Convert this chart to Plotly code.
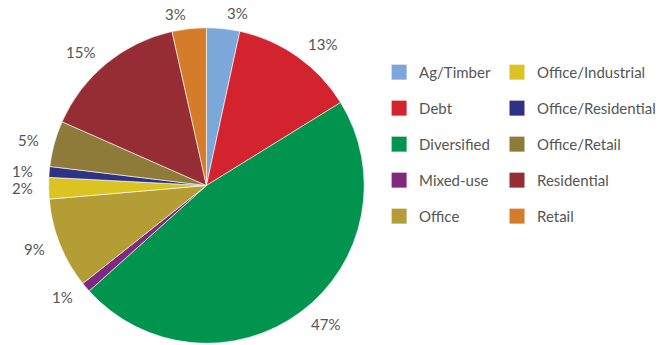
import math
import plotly.graph_objects as go

categories = ["Ag/Timber", "Debt", "Diversified", "Mixed-use", "Office",
              "Office/Industrial", "Office/Residential", "Office/Retail",
              "Residential", "Retail"]
shares = [3.4, 12.8, 47.2, 1.0, 9.3, 2.2, 1.1, 4.7, 14.9, 3.5]
pct_labels = ["3%", "13%", "47%", "1%", "9%", "2%", "1%", "5%", "15%", "3%"]
colors = ["#7BA7D9", "#D2232E", "#00944F", "#80297F", "#B59D36",
          "#DCC324", "#2E3286", "#8E7B39", "#962D34", "#D57C2A"]

W, H = 661, 345
CX, CY, R = 208, 185.5, 159   # pie centre / radius in px (from top-left)
LABEL_R = 173
FONT = "Lato"
TXT = "#555555"

fig = go.Figure()
fig.add_trace(go.Pie(
    labels=categories, values=shares, sort=False, direction="clockwise",
    rotation=0, textinfo="none", hoverinfo="label+percent",
    marker=dict(colors=colors, line=dict(color="white", width=0.6)),
    domain=dict(x=[(CX - R) / W, (CX + R) / W],
                y=[(H - CY - R) / H, (H - CY + R) / H]),
    showlegend=False,
))

# legend entries (two columns)
for i, (cat, col) in enumerate(zip(categories, colors)):
    fig.add_trace(go.Scatter(
        x=[None], y=[None], mode="markers", name=cat,
        marker=dict(symbol="square", size=15, color=col),
        legend="legend" if i < 5 else "legend2", legendgroup=cat,
    ))

# percentage labels at slice mid-angles
total = sum(shares)
cum = 0
annotations = []
for v, t in zip(shares, pct_labels):
    mid = (cum + v / 2) / total * 2 * math.pi
    cum += v
    px = CX + LABEL_R * math.sin(mid)
    py = CY - LABEL_R * math.cos(mid)
    annotations.append(dict(
        x=px / W, y=1 - py / H, xref="paper", yref="paper", text=t,
        showarrow=False, xanchor="left" if math.sin(mid) >= 0 else "right",
        yanchor="middle",
        font=dict(family=FONT, size=15, color=TXT)))

legend_common = dict(
    orientation="v", yanchor="top", xanchor="left", y=0.838,
    font=dict(family=FONT, size=15, color=TXT), tracegroupgap=13.5,
    bgcolor="rgba(0,0,0,0)", itemclick=False, itemdoubleclick=False,
)

fig.update_layout(
    width=W, height=H, margin=dict(l=0, r=0, t=0, b=0),
    paper_bgcolor="white", plot_bgcolor="white",
    xaxis=dict(visible=False), yaxis=dict(visible=False),
    annotations=annotations,
    legend=dict(x=382 / W, **legend_common),
    legend2=dict(x=501 / W, **legend_common),
)

fig.write_html("out.html")
